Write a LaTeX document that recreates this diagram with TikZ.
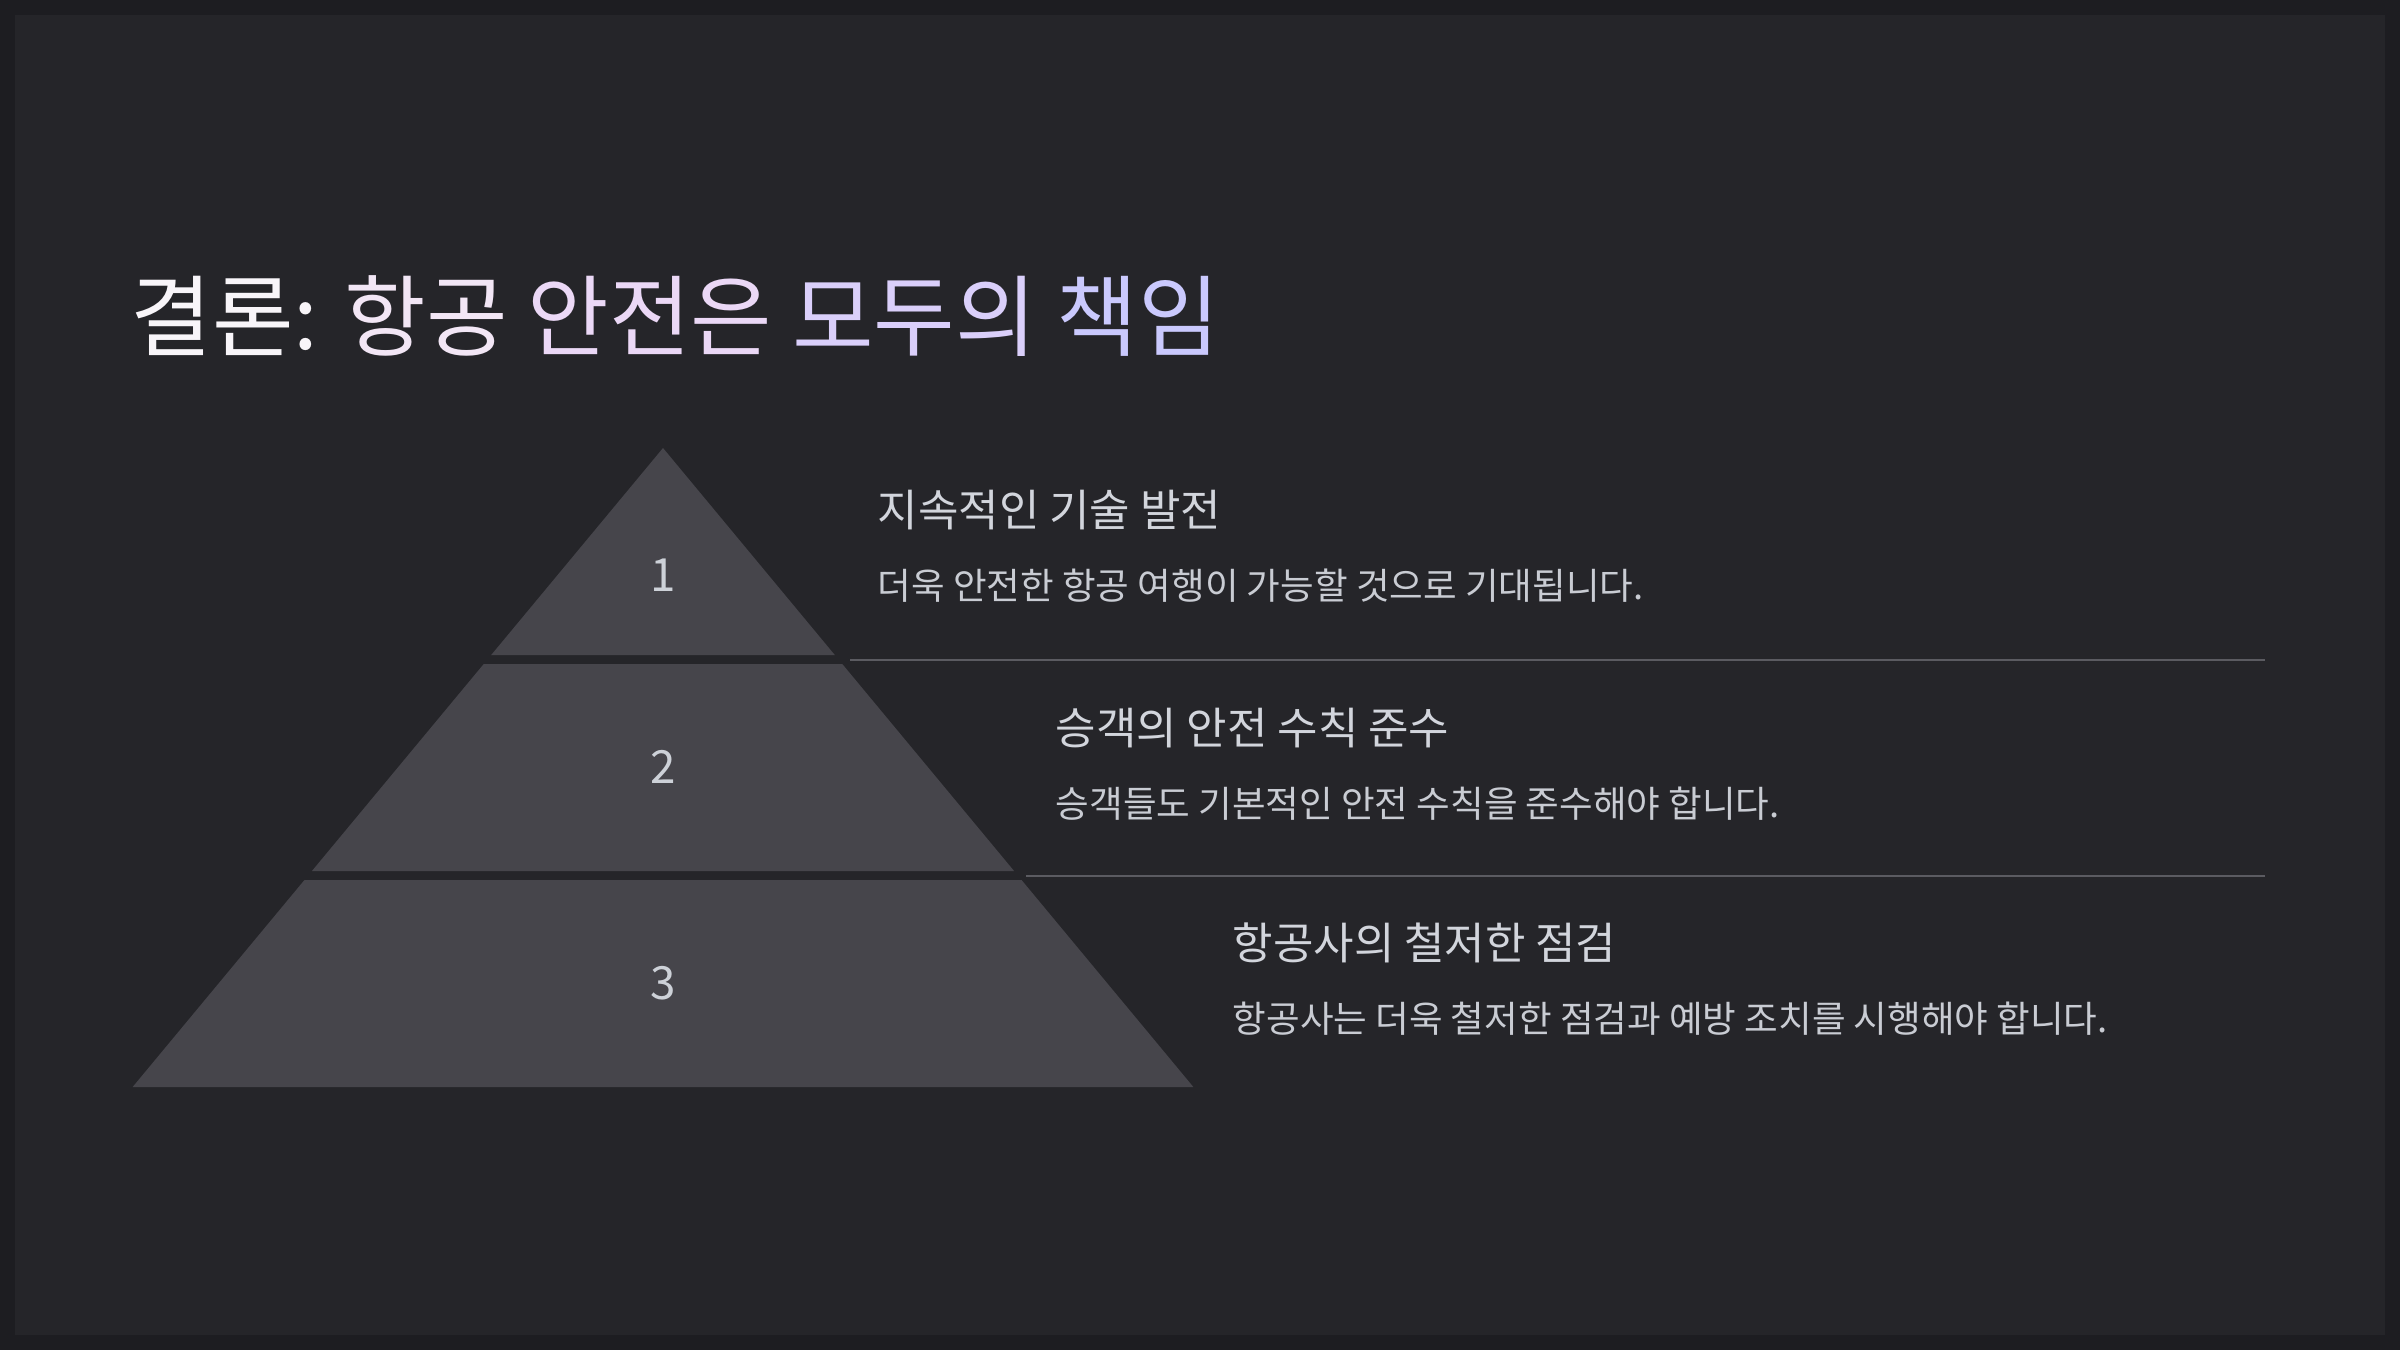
\documentclass[tikz,border=0pt]{standalone}
\usepackage{fontspec}
\setmainfont{Noto Sans CJK KR}
\definecolor{frame}{HTML}{1D1D21}
\definecolor{slide}{HTML}{252529}
\definecolor{layer}{HTML}{46454B}
\definecolor{rule}{HTML}{5B5B61}
\definecolor{headtxt}{HTML}{D2D5DC}
\definecolor{bodytxt}{HTML}{C9CCD3}
\definecolor{numtxt}{HTML}{CDD1D8}
\definecolor{ttla}{HTML}{F8F5F9}
\definecolor{ttlb}{HTML}{F2E6F5}
\definecolor{ttlc}{HTML}{EBD8F6}
\definecolor{ttld}{HTML}{DACFFA}
\definecolor{ttle}{HTML}{CAC9FD}

\begin{document}
\begin{tikzpicture}[x=0.01cm,y=-0.01cm,
    titletext/.style={anchor=west,inner sep=0pt,font=\fontsize{25.2}{30}\selectfont},
    heading/.style={anchor=west,inner sep=0pt,text=headtxt,font=\fontsize{12.5}{15}\selectfont},
    bodyline/.style={anchor=west,inner sep=0pt,text=bodytxt,font=\fontsize{10.4}{12.5}\selectfont},
    levelnum/.style={inner sep=0pt,text=numtxt,font=\fontsize{13}{15.5}\selectfont},
    sep/.style={draw=rule,line width=0.6pt}]
    % slide bbox, pixel units
    \useasboundingbox (0,0) rectangle (2400,1350);
    \fill[frame] (0,0) rectangle (2400,1350);
    \fill[slide] (15,15) rectangle (2385,1335);

    % title, colour runs left to right
    \node[titletext] (title) at (130,316) {\color{ttla}결론: \color{ttlb}항공 \color{ttlc}안전은 \color{ttld}모두의 \color{ttle}책임};

    % pyramid layers (apex at 663,448)
    \foreach \i in {1,2,3} {
      \pgfmathsetmacro\ya{448+216*(\i-1)}
      \pgfmathsetmacro\yb{\ya+207}
      \fill[layer] ({663-0.83*(\ya-448)},\ya) -- ({663+0.83*(\ya-448)},\ya)
        -- ({663+0.83*(\yb-448)},\yb) -- ({663-0.83*(\yb-448)},\yb) -- cycle;
    }
    \foreach \i/\ny in {1/575,2/767,3/983}
      \node[levelnum] (num\i) at (663,\ny) {\i};

    % separators
    \draw[sep] (850,660) -- (2265,660);
    \draw[sep] (1026,876) -- (2265,876);

    % level texts
    \foreach \i/\tx/\ty/\hd/\bd in {
        1/877/510/{지속적인 기술 발전}/{더욱 안전한 항공 여행이 가능할 것으로 기대됩니다.},
        2/1055/728/{승객의 안전 수칙 준수}/{승객들도 기본적인 안전 수칙을 준수해야 합니다.},
        3/1232/943/{항공사의 철저한 점검}/{항공사는 더욱 철저한 점검과 예방 조치를 시행해야 합니다.}} {
      \node[heading] (head\i) at (\tx,\ty) {\hd};
      \node[bodyline] (body\i) at (\tx,\ty+76) {\bd};
    }
  \end{tikzpicture}
\end{document}
